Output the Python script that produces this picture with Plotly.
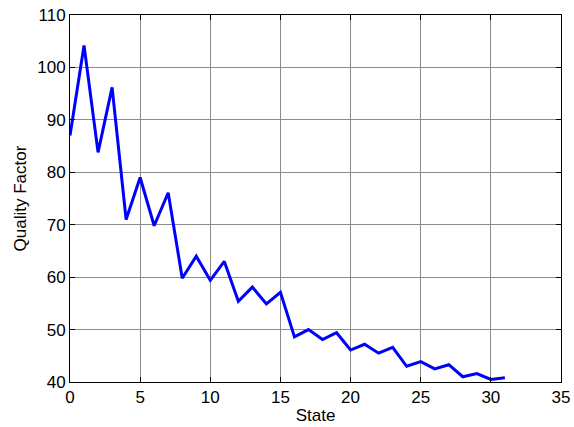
import plotly.graph_objects as go

state = list(range(32))
quality = [87.0, 104.2, 83.8, 96.2, 71.0, 79.0, 69.8, 76.1, 59.8, 64.0,
           59.4, 63.0, 55.4, 58.1, 54.9, 57.1, 48.6, 50.0, 48.1, 49.4,
           46.1, 47.2, 45.5, 46.6, 43.0, 43.9, 42.5, 43.3, 41.0, 41.6,
           40.5, 40.8]

x_ticks = [0, 5, 10, 15, 20, 25, 30, 35]
y_ticks = [40, 50, 60, 70, 80, 90, 100, 110]

fig = go.Figure()
fig.add_trace(go.Scatter(x=state, y=quality, mode="lines",
                         line=dict(color="#0000ff", width=3)))

font = dict(family="Liberation Sans, Arial, sans-serif", size=17, color="black")
axis_common = dict(showline=True, linecolor="black", linewidth=1, mirror="ticks",
                   ticks="inside", ticklen=5, tickcolor="black",
                   showgrid=True, gridcolor="#8c8c8c", gridwidth=1,
                   zeroline=False, tickfont=font, automargin=False)

fig.update_layout(
    width=574, height=427,
    margin=dict(l=70, r=13, t=15, b=45, autoexpand=False),
    paper_bgcolor="white", plot_bgcolor="white",
    showlegend=False,
    font=font,
    xaxis=dict(range=[0, 35], tickvals=x_ticks, title=dict(text="State", standoff=2,
               font=dict(family="Liberation Sans, Arial, sans-serif", size=17)), **axis_common),
    yaxis=dict(range=[40, 110], tickvals=y_ticks, title=dict(text="Quality Factor", standoff=6,
               font=dict(family="Liberation Sans, Arial, sans-serif", size=17)), **axis_common),
)

fig.write_html("out.html")
